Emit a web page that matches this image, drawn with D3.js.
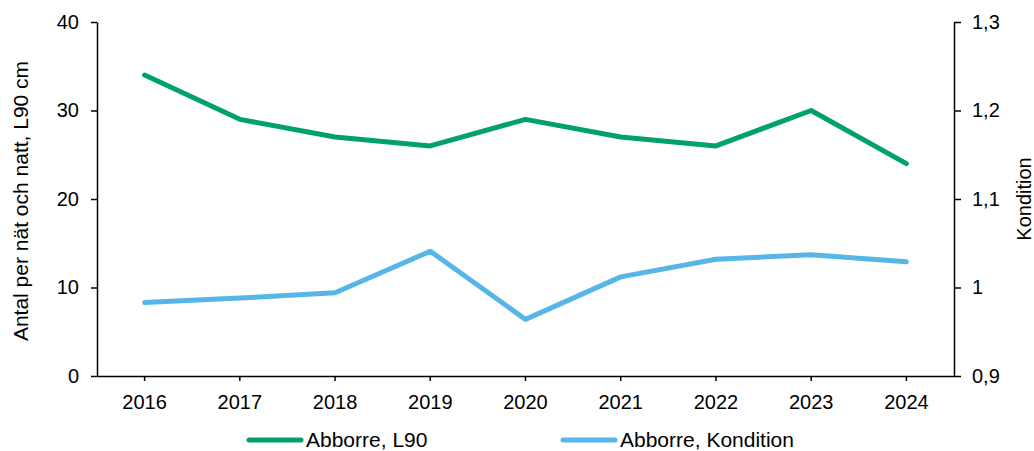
<!DOCTYPE html>
<html>
<head>
<meta charset="utf-8">
<script src="https://cdn.jsdelivr.net/npm/d3@7"></script>
<style>
  body { margin: 0; background: #fff; }
  svg { font-family: 'Liberation Sans', Arial, sans-serif; }
  .axis path, .axis line { stroke: #000; stroke-width: 1.5; }
  .axis text { font-size: 20px; fill: #000; }
</style>
</head>
<body>
<svg></svg>
<script>
// data
const years = ['2016', '2017', '2018', '2019', '2020', '2021', '2022', '2023', '2024']
const l90 = [34, 29, 27, 26, 29, 27, 26, 30, 24]
const kondition = [0.983, 0.988, 0.994, 1.041, 0.964, 1.012, 1.032, 1.037, 1.029]
const leftTicks = [0, 10, 20, 30, 40]
const rightTicks = [0.9, 1.0, 1.1, 1.2, 1.3]
const seriesNames = ['Abborre, L90', 'Abborre, Kondition']

const w = 1034
const h = 451
const plotLeft = 97
const plotRight = 954
const plotTop = 22
const plotBottom = 376
const green = '#00a070'
const blue = '#58b5e8'

const svg = d3.select('svg')
  .attr('width', w)
  .attr('height', h)

const x = d3.scaleBand()
  .domain(years)
  .range([plotLeft, plotRight])

const yL = d3.scaleLinear().domain([0, 40]).range([plotBottom, plotTop])
const yR = d3.scaleLinear().domain([0.9, 1.3]).range([plotBottom, plotTop])

// axes
svg.append('g')
  .attr('class', 'axis')
  .attr('transform', `translate(0, ${plotBottom})`)
  .call(d3.axisBottom(x).tickSizeInner(5).tickSizeOuter(0).tickPadding(14))

svg.append('g')
  .attr('class', 'axis')
  .attr('transform', `translate(${plotLeft}, 0)`)
  .call(d3.axisLeft(yL).tickValues(leftTicks).tickSizeInner(6).tickSizeOuter(0).tickPadding(12))

svg.append('g')
  .attr('class', 'axis')
  .attr('transform', `translate(${plotRight}, 0)`)
  .call(d3.axisRight(yR).tickValues(rightTicks).tickSizeInner(7).tickSizeOuter(0).tickPadding(11)
    .tickFormat(d => d === 1 ? '1' : d3.format('.1f')(d).replace('.', ',')))

// axis titles
svg.append('text')
  .attr('transform', `translate(28, 201)rotate(-90)`)
  .attr('text-anchor', 'middle')
  .style('font-size', '21px')
  .text('Antal per nät och natt, L90 cm')

svg.append('text')
  .attr('transform', `translate(1031, 199)rotate(-90)`)
  .attr('text-anchor', 'middle')
  .style('font-size', '20px')
  .text('Kondition')

// lines
const cx = d => x(d) + x.bandwidth() / 2

const lineL = d3.line().x((d, i) => cx(years[i])).y(d => yL(d))
const lineR = d3.line().x((d, i) => cx(years[i])).y(d => yR(d))

svg.append('path')
  .attr('d', lineL(l90))
  .attr('fill', 'none')
  .attr('stroke', green)
  .attr('stroke-width', 5)
  .attr('stroke-linecap', 'round')
  .attr('stroke-linejoin', 'round')

svg.append('path')
  .attr('d', lineR(kondition))
  .attr('fill', 'none')
  .attr('stroke', blue)
  .attr('stroke-width', 5)
  .attr('stroke-linecap', 'round')
  .attr('stroke-linejoin', 'round')

// legend
const legendItems = [
  { name: seriesNames[0], color: green, x0: 249 },
  { name: seriesNames[1], color: blue, x0: 563 }
]
const legend = svg.selectAll('.legend')
  .data(legendItems)
  .enter()
  .append('g')
  .attr('class', 'legend')

legend.append('line')
  .attr('x1', d => d.x0)
  .attr('x2', d => d.x0 + 52)
  .attr('y1', 440)
  .attr('y2', 440)
  .attr('stroke', d => d.color)
  .attr('stroke-width', 5)
  .attr('stroke-linecap', 'round')

legend.append('text')
  .attr('x', d => d.x0 + 57)
  .attr('y', 447)
  .style('font-size', '21px')
  .text(d => d.name)
</script>
</body>
</html>
